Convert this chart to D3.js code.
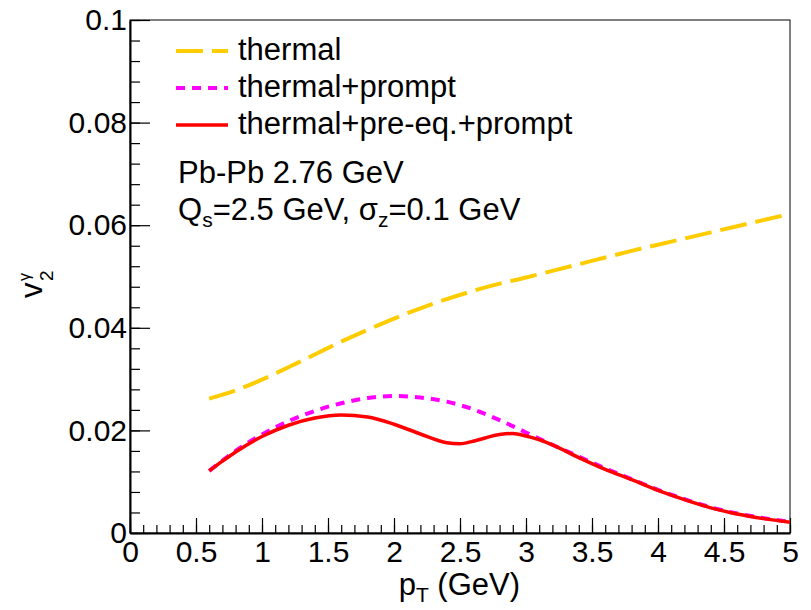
<!DOCTYPE html>
<html>
<head>
<meta charset="utf-8">
<script src="https://cdn.jsdelivr.net/npm/d3@7"></script>
<style>
  body { margin: 0; background: #fff; }
  text { font-family: "Liberation Sans", Arial, Helvetica, sans-serif; fill: #000; }
</style>
</head>
<body>
<div id="chart"></div>
<script>
// --- Data ---
const pt = [0.6, 0.8, 1.0, 1.2, 1.4, 1.6, 1.8, 2.0, 2.2, 2.4, 2.6, 2.8, 3.0, 3.2, 3.4, 3.6, 3.8, 4.0, 4.2, 4.4, 4.6, 4.8, 5.0];
const thermal = [0.0262, 0.0278, 0.0299, 0.0323, 0.0348, 0.0373, 0.0396, 0.0418, 0.0438, 0.0456, 0.0472, 0.0486, 0.0498, 0.0511, 0.0524, 0.0537, 0.0550, 0.0562, 0.0574, 0.0586, 0.0598, 0.0610, 0.0622];
const thermalPrompt = [0.0121, 0.0160, 0.0192, 0.0218, 0.0238, 0.0253, 0.0263, 0.0267, 0.0264, 0.0256, 0.0241, 0.0220, 0.0196, 0.0172, 0.0149, 0.0126, 0.0105, 0.0084, 0.0066, 0.0050, 0.0038, 0.0029, 0.0022];
const ptFull = [0.6, 0.7, 0.8, 1.0, 1.2, 1.4, 1.6, 1.8, 2.0, 2.2, 2.4, 2.5, 2.6, 2.8, 2.9, 3.0, 3.2, 3.4, 3.6, 3.8, 4.0, 4.2, 4.4, 4.6, 4.8, 5.0];
const thermalPreeqPrompt = [0.0121, 0.0140, 0.0158, 0.0188, 0.0210, 0.0224, 0.0230, 0.0226, 0.0212, 0.0193, 0.0176, 0.0174, 0.0179, 0.0192, 0.0194, 0.0189, 0.0172, 0.0147, 0.0124, 0.0104, 0.0083, 0.0065, 0.0049, 0.0037, 0.0028, 0.0021];

const xTicks = [0, 0.5, 1, 1.5, 2, 2.5, 3, 3.5, 4, 4.5, 5];
const xTickLabels = ["0", "0.5", "1", "1.5", "2", "2.5", "3", "3.5", "4", "4.5", "5"];
const yTicks = [0, 0.02, 0.04, 0.06, 0.08, 0.1];
const yTickLabels = ["0", "0.02", "0.04", "0.06", "0.08", "0.1"];

const series = [
    { name: "thermal", x: pt, y: thermal, color: "#ffcc00", width: 4, dash: "27,9" },
    { name: "thermal+prompt", x: pt, y: thermalPrompt, color: "#ff00ff", width: 4, dash: "9,7" },
    { name: "thermal+pre-eq.+prompt", x: ptFull, y: thermalPreeqPrompt, color: "#ff0000", width: 3.5, dash: null }
];

// --- Rendering ---
const width = 811, height = 610;
const margin = { top: 20, right: 21, bottom: 77, left: 130 };
const fontSize = 30, textSize = 31;

const svg = d3.select("#chart").append("svg")
    .attr("width", width)
    .attr("height", height);

const x = d3.scaleLinear().domain([0, 5]).range([margin.left, width - margin.right]);
const y = d3.scaleLinear().domain([0, 0.1]).range([height - margin.bottom, margin.top]);

// frame
svg.append("rect")
    .attr("x", margin.left).attr("y", margin.top)
    .attr("width", width - margin.left - margin.right)
    .attr("height", height - margin.top - margin.bottom)
    .attr("fill", "none").attr("stroke", "#000").attr("stroke-width", 1);

// x minor ticks
svg.append("g")
    .attr("transform", `translate(0,${y(0)})`)
    .call(d3.axisBottom(x).tickValues(d3.range(0, 51).map(i => i / 10)).tickSizeInner(-8).tickSizeOuter(0).tickFormat(""))
    .call(g => g.select(".domain").remove());

// x major ticks + labels
svg.append("g")
    .attr("transform", `translate(0,${y(0)})`)
    .call(d3.axisBottom(x).tickValues(xTicks).tickSizeInner(-15).tickSizeOuter(0).tickPadding(8)
        .tickFormat((d, i) => xTickLabels[i]))
    .call(g => g.select(".domain").attr("stroke-width", 2))
    .call(g => g.selectAll("text").style("font-size", fontSize + "px").attr("font-family", null));

// y minor ticks
svg.append("g")
    .attr("transform", `translate(${x(0)},0)`)
    .call(d3.axisLeft(y).tickValues(d3.range(0, 26).map(i => i * 0.004)).tickSizeInner(-10).tickSizeOuter(0).tickFormat(""))
    .call(g => g.select(".domain").remove());

// y major ticks + labels
svg.append("g")
    .attr("transform", `translate(${x(0)},0)`)
    .call(d3.axisLeft(y).tickValues(yTicks).tickSizeInner(-20).tickSizeOuter(0).tickPadding(3)
        .tickFormat((d, i) => yTickLabels[i]))
    .call(g => g.select(".domain").attr("stroke-width", 2))
    .call(g => g.selectAll("text").style("font-size", fontSize + "px").attr("font-family", null));

svg.selectAll(".tick line").attr("stroke", "#000").attr("stroke-width", 1.2);

// curves
const line = d3.line()
    .x(d => x(d[0]))
    .y(d => y(d[1]))
    .curve(d3.curveMonotoneX);

series.forEach(s => {
    svg.append("path")
        .datum(s.x.map((v, i) => [v, s.y[i]]))
        .attr("fill", "none")
        .attr("stroke", s.color)
        .attr("stroke-width", s.width)
        .attr("stroke-dasharray", s.dash)
        .attr("d", line);
});

// legend
const legend = svg.append("g").attr("transform", "translate(176,51)");
series.forEach((s, i) => {
    const g = legend.append("g").attr("transform", `translate(0,${i * 37})`);
    g.append("line")
        .attr("x1", 0).attr("x2", 52)
        .attr("stroke", s.color)
        .attr("stroke-width", s.width)
        .attr("stroke-dasharray", s.dash);
    g.append("text")
        .attr("x", 62).attr("y", 9)
        .style("font-size", textSize + "px")
        .text(s.name);
});

// annotations
svg.append("text")
    .attr("x", 178).attr("y", 183)
    .style("font-size", textSize + "px")
    .text("Pb-Pb 2.76 GeV");

const info = svg.append("text")
    .attr("x", 178).attr("y", 220)
    .style("font-size", textSize + "px");
info.append("tspan").text("Q");
info.append("tspan").attr("dy", 7).style("font-size", "21px").text("s");
info.append("tspan").attr("dy", -7).text("=2.5 GeV, σ");
info.append("tspan").attr("dy", 7).style("font-size", "21px").text("z");
info.append("tspan").attr("dy", -7).text("=0.1 GeV");

// x title
const xt = svg.append("text")
    .attr("x", 520).attr("y", 595)
    .attr("text-anchor", "end")
    .style("font-size", textSize + "px");
xt.append("tspan").text("p");
xt.append("tspan").attr("dy", 7).style("font-size", "21px").text("T");
xt.append("tspan").attr("dy", -7).text(" (GeV)");

// y title
const yt = svg.append("g").attr("transform", "translate(42,298) rotate(-90)");
yt.append("text").attr("x", 0).attr("y", 0).style("font-size", textSize + "px").text("v");
yt.append("text").attr("x", 17).attr("y", 11).style("font-size", "19px").text("2");
yt.append("text").attr("x", 17).attr("y", -12).style("font-size", "16px").text("γ");
</script>
</body>
</html>
